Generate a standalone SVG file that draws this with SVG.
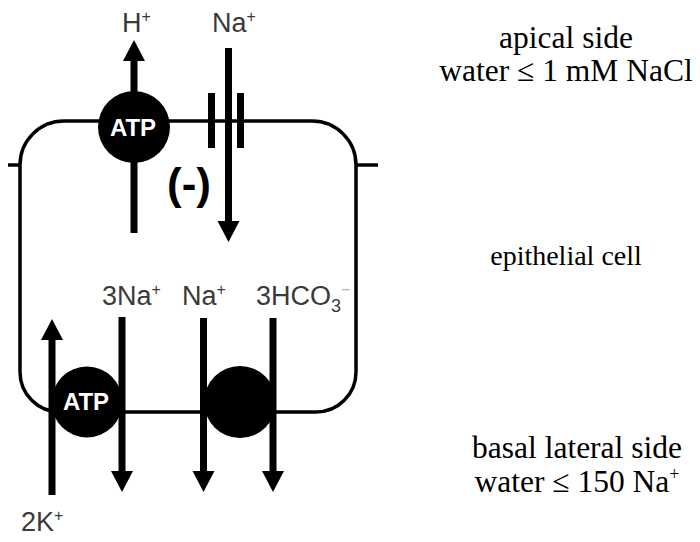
<svg xmlns="http://www.w3.org/2000/svg" width="700" height="542" viewBox="0 0 700 542">
  <defs>
    <marker id="head" markerUnits="userSpaceOnUse" markerWidth="24" markerHeight="24" refX="1" refY="12" orient="auto" viewBox="0 0 24 24">
      <path d="M0,1 L21,12 L0,23 Z" fill="#000"/>
    </marker>
    <style>
      .mem { fill: none; stroke: #000; stroke-width: 3.5; }
      .flux { fill: none; stroke: #000; stroke-width: 7; }
      .bar { fill: #000; }
      .pump { fill: #000; }
      .atp { font-family: "Liberation Sans", Arial, sans-serif; font-weight: bold; font-size: 24px; fill: #fff; text-anchor: middle; }
      .ion { font-family: "Liberation Sans", Arial, sans-serif; font-size: 27px; fill: #3a3a3a; }
      .sup { font-size: 16px; }
      .sub { font-size: 18px; }
      .note { font-family: "Liberation Serif", "Times New Roman", serif; font-size: 31.5px; fill: #000; text-anchor: middle; }
      .note.small { font-size: 28px; }
      .note .plus { font-size: 18px; }
      .sign { font-family: "Liberation Sans", Arial, sans-serif; font-weight: bold; font-size: 44px; fill: #000; text-anchor: middle; }
    </style>
  </defs>
  <rect width="700" height="542" fill="#fff"/>

  <g id="cell">
    <path class="mem" d="M20,165 A44,44 0 0 1 64,121 H312 A44,44 0 0 1 356,165 V372 A40,40 0 0 1 316,412 H60 A40,40 0 0 1 20,372 Z"/>
    <line class="mem" x1="8" y1="165" x2="20" y2="165"/>
    <line class="mem" x1="356" y1="165" x2="378" y2="165"/>
  </g>

  <g id="connectors">
    <line class="flux" x1="134" y1="233" x2="134" y2="60" marker-end="url(#head)"/>
    <line class="flux" x1="228.5" y1="48" x2="228.5" y2="222" marker-end="url(#head)"/>
    <line class="flux" x1="52" y1="495" x2="52" y2="339" marker-end="url(#head)"/>
    <line class="flux" x1="122" y1="317" x2="122" y2="472" marker-end="url(#head)"/>
    <line class="flux" x1="203.5" y1="318" x2="203.5" y2="472" marker-end="url(#head)"/>
    <line class="flux" x1="273" y1="318" x2="273" y2="472" marker-end="url(#head)"/>
  </g>

  <g id="proton-pump">
    <circle class="pump" cx="134" cy="127" r="36"/>
    <text class="atp" x="133" y="136">ATP</text>
  </g>

  <g id="sodium-channel">
    <rect class="bar" x="208" y="93" width="7" height="55"/>
    <rect class="bar" x="237" y="93" width="7" height="55"/>
  </g>

  <g id="sodium-potassium-pump">
    <circle class="pump" cx="87" cy="402" r="35.5"/>
    <text class="atp" x="86" y="410">ATP</text>
  </g>

  <g id="cotransporter">
    <circle class="pump" cx="240" cy="402" r="36"/>
  </g>

  <g id="labels">
    <text class="ion" x="122" y="32">H<tspan class="sup" dy="-10">+</tspan></text>
    <text class="ion" x="212" y="32">Na<tspan class="sup" dy="-10">+</tspan></text>
    <text class="sign" x="189" y="199">(-)</text>
    <text class="ion" x="102" y="305">3Na<tspan class="sup" dy="-10">+</tspan></text>
    <text class="ion" x="182" y="305">Na<tspan class="sup" dy="-10">+</tspan></text>
    <text class="ion" x="256" y="305">3HCO<tspan class="sub" dy="7">3</tspan><tspan class="sup" dy="-17" fill="#b0b0b0">−</tspan></text>
    <text class="ion" x="21" y="531">2K<tspan class="sup" dy="-10">+</tspan></text>
  </g>

  <g id="notes">
    <text class="note" x="566" y="48">apical side</text>
    <text class="note" x="566" y="81">water ≤ 1 mM NaCl</text>
    <text class="note small" x="566" y="265">epithelial cell</text>
    <text class="note" x="577" y="458">basal lateral side</text>
    <text class="note" x="577" y="492">water ≤ 150 Na<tspan class="plus" dy="-12">+</tspan></text>
  </g>
</svg>
